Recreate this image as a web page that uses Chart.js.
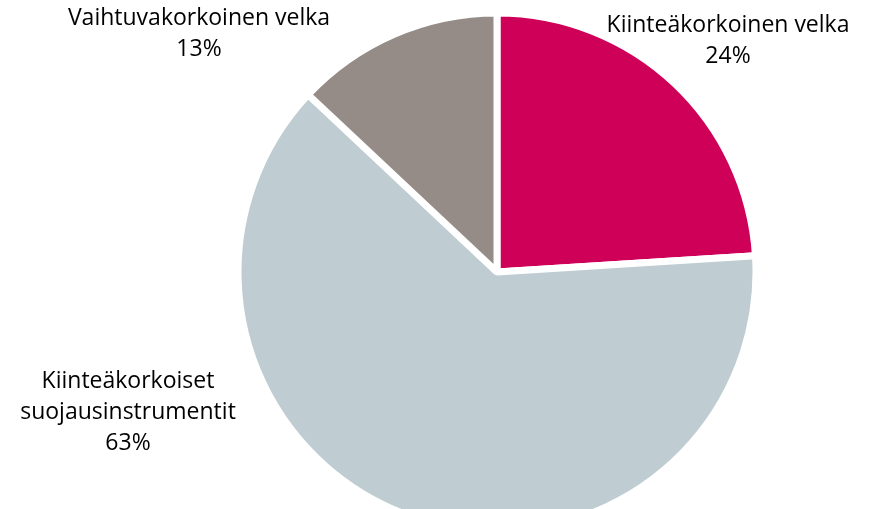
<!DOCTYPE html>
<html>
<head>
<meta charset="utf-8">
<script src="https://cdn.jsdelivr.net/npm/chart.js@4.4.1/dist/chart.umd.min.js"></script>
<style>
  html, body { margin: 0; padding: 0; background: #fff; overflow: hidden; }
  #wrap { position: relative; width: 872px; height: 509px; }
</style>
</head>
<body>
<div id="wrap"><canvas id="chart"></canvas></div>
<script>
// slice data, clockwise from 12 o'clock
const categories = ['Kiinteäkorkoinen velka', 'Kiinteäkorkoiset suojausinstrumentit', 'Vaihtuvakorkoinen velka'];
const shares = [24, 63, 13];
const sliceColors = ['#ce0058', '#bfcdd2', '#968c87'];

// label text lines + anchor (centre of first line)
const labelLines = [
    ['Kiinteäkorkoinen velka'],
    ['Kiinteäkorkoiset', 'suojausinstrumentit'],
    ['Vaihtuvakorkoinen velka']
];
const labelAnchors = [[728, 25], [128, 381], [199, 18]];

Chart.defaults.font.family = "'Open Sans', sans-serif";

const outsideLabels = {
    id: 'outsideLabels',
    afterDraw(chart) {
        const ctx = chart.ctx;
        ctx.save();
        ctx.font = '23px "Open Sans", sans-serif';
        ctx.fillStyle = '#000';
        ctx.textAlign = 'center';
        ctx.textBaseline = 'middle';
        const lh = 31;
        categories.forEach((c, i) => {
            const lines = labelLines[i].concat([shares[i] + '%']);
            const [x, y] = labelAnchors[i];
            lines.forEach((t, j) => ctx.fillText(t, x, y + j * lh));
        });
        ctx.restore();
    }
};

new Chart(document.getElementById('chart'), {
    type: 'pie',
    data: {
        labels: categories,
        datasets: [{
            data: shares,
            backgroundColor: sliceColors,
            borderColor: '#fff',
            borderWidth: 7,
            clip: false
        }]
    },
    options: {
        responsive: true,
        maintainAspectRatio: false,
        animation: false,
        radius: 259,
        layout: { padding: { left: 122, top: 35, right: 0, bottom: 0 } },
        plugins: {
            legend: { display: false },
            tooltip: { enabled: false }
        }
    },
    plugins: [outsideLabels]
});
</script>
</body>
</html>
